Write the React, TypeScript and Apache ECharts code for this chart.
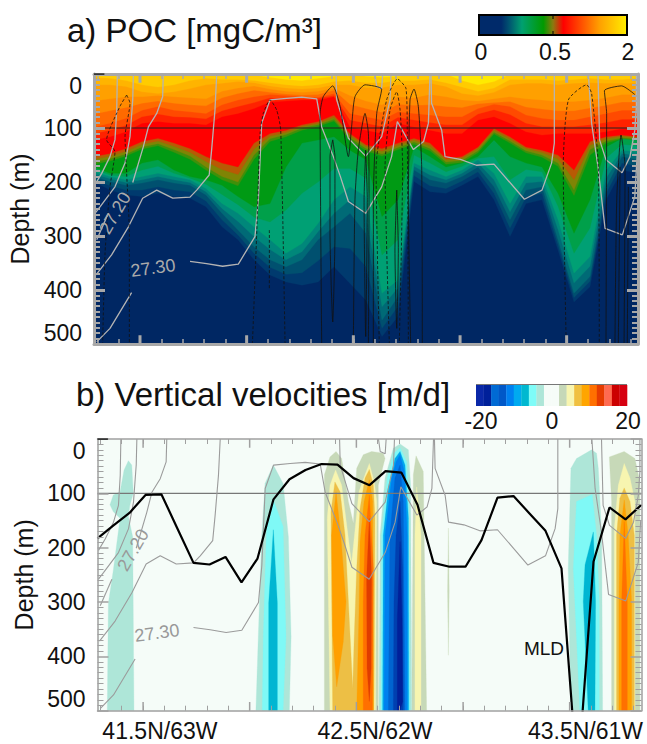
import React, { useEffect, useRef } from "react";
import * as echarts from "echarts";

type Pt = [number, number];

// ---- Ticks ----
const xMinorTicksA = [0.21, 1.54, 2.875, 4.21, 5.54, 6.88, 8.21, 9.54, 10.88, 12.21, 13.54, 14.88, 16.21, 17.54, 18.88, 20.21, 21.54, 22.88, 24.21, 25.54, 26.88, 28.21, 29.54, 30.88, 32.21, 33.54];
const xMajorTicksA = [2.875, 9.54, 16.21, 22.88, 29.54];
const xMinorTicksB = [0.18, 1.51, 2.85, 4.18, 5.51, 6.85, 8.18, 9.51, 10.85, 12.18, 13.51, 14.85, 16.18, 17.51, 18.85, 20.18, 21.51, 22.85, 24.18, 25.51, 26.85, 28.18, 29.51, 30.85, 32.18, 33.51];
const xMajorTicksB = [2.85, 9.51, 16.18, 22.85, 29.51];
const sectionLabelPos = [3.9, 17.34, 30.5];
const sectionLabels = ["41.5N/63W", "42.5N/62W", "43.5N/61W"];

// ---- POC: depth (m) of each contour at stations 0..34 ----
const navyTop = [199,215,224,227,221,227,230,246,283,307,344,372,385,391,385,357,388,419,486,449,199,218,221,206,190,233,301,240,233,326,422,394,233,178,184];
const blue1 = [195,207,215,215,209,215,218,235,270,298,332,358,371,368,346,320,323,357,471,430,188,207,212,198,181,221,285,228,221,316,414,384,221,165,171];
const tealMid = [190,199,206,202,196,202,206,224,258,289,320,344,357,344,307,283,258,295,456,412,178,196,202,190,172,209,270,215,209,307,406,375,209,153,159];
const teal2 = [185,194,201,196,190,196,201,218,249,273,301,325,344,329,292,258,233,261,431,396,171,187,196,184,165,196,255,202,199,288,387,356,193,147,151];
const tealBright = [181,190,196,190,184,190,196,212,240,258,283,307,332,314,277,233,209,227,406,381,165,178,190,178,159,184,240,190,190,270,369,338,178,141,144];
const tealGreen = [176,187,190,178,171,184,193,204,223,242,265,274,252,221,200,175,175,193,335,307,150,165,181,171,156,153,196,177,181,245,332,285,156,130,133];
const greenBottom = [172,184,184,165,159,178,190,196,206,227,246,240,172,128,122,116,141,159,264,233,135,153,172,165,153,122,153,165,172,221,295,233,135,119,122];
const oliveLow = [167,161,152,139,133,145,158,178,196,207,158,125,116,104,97,87,122,142,152,140,130,142,167,164,146,111,128,146,154,171,225,150,128,120,122];
const oliveMid = [163,157,148,135,129,140,152,172,190,200,150,120,112,100,94,84,118,138,148,136,126,138,163,160,142,108,124,142,150,165,215,140,124,118,120];
const oliveHigh = [158,152,143,130,124,134,145,162,177,186,139,115,108,97,91,80,114,134,143,132,122,133,159,156,138,104,120,138,145,157,196,132,120,115,118];
const redBottom = [153,147,138,125,119,128,138,153,165,172,128,110,104,94,88,76,110,131,138,128,119,128,156,153,135,101,116,135,141,150,178,125,116,113,116];
const redTop = [122,116,107,91,88,91,91,94,79,73,64,52,50,48,48,42,98,104,110,91,98,104,110,110,85,79,91,107,113,110,110,110,107,101,101];
const redOrange1 = [110,104,95,79,74,79,80,83,68,60,53,44,46,46,45,40,85,91,97,80,85,90,94,94,74,66,75,91,97,97,97,94,90,84,84];
const orangeRed = [98,91,82,67,60,67,70,73,57,48,42,38,40,42,43,36,73,79,85,70,73,76,79,79,64,56,60,76,82,85,85,79,73,67,67];
const orange2 = [74,68,62,54,50,54,57,59,44,36,30,34,37,39,38,30,56,64,71,56,58,57,60,62,55,53,51,61,65,68,68,63,58,52,52];
const orange = [50,46,42,42,40,42,44,46,32,26,22,28,32,34,32,26,40,50,57,42,44,38,42,48,50,46,42,46,48,51,51,48,44,38,38];
const amber = [20,20,23,33,36,33,27,20,17,14,16,22,26,28,26,20,20,25,25,20,20,17,23,36,40,34,20,17,17,20,17,16,17,17,17];
const gold = [6,8,12,20,24,20,12,8,10,10,12,16,20,22,20,14,12,16,16,12,12,10,16,24,32,26,10,10,10,12,10,8,10,10,8];
const yellow = [0,0,0,0,3,0,0,0,0,0,2,6,10,12,8,4,0,4,6,4,0,0,0,12,20,14,0,0,0,0,0,0,0,0,0];
const pocLevels: [number[], string][] = [
  [navyTop, "#003a6e"], [blue1, "#00506f"], [tealMid, "#006a76"], [teal2, "#00877a"], [tealBright, "#00a074"],
  [tealGreen, "#00a04a"], [greenBottom, "#009a14"], [oliveLow, "#3f900a"], [oliveMid, "#7f8405"], [oliveHigh, "#b85a05"],
  [redBottom, "#ff0000"], [redTop, "#ff2200"], [redOrange1, "#ff4a00"], [orangeRed, "#ff6a00"], [orange2, "#ff8a00"],
  [orange, "#ffa000"], [amber, "#ffb400"], [gold, "#ffcc00"], [yellow, "#ffea00"],
];

// ---- Isopycnals [station, depth] ----
const isoA: Pt[] = [[1.46,0],[1.42,67],[1.31,122],[1,153],[0.48,184],[0.06,205]];
const isoB: Pt[] = [[2.46,0],[2.42,48],[2.25,116],[1.94,165],[1.31,209],[0.375,246],[0.06,258]];
const isoC1: Pt[] = [[4.33,0],[4.29,42],[3.92,73],[3.4,98],[3.08,135],[2.42,201]];
const isoC2: Pt[] = [[0.9,258],[0.17,307]];
const isoD: Pt[] = [[7.67,0],[7.56,67],[7.35,141],[7.2,187],[6.42,215],[6,228],[4.92,230],[3.92,215],[3.04,230],[2.15,283],[1.1,335],[0.125,372]];
const isoE: Pt[] = [[6,347],[7.04,351],[8.04,356],[9.02,352],[10.06,301],[10.27,233],[10.48,91],[11,48],[12.04,45],[12.98,43],[13.92,46],[14.23,98],[14.96,153],[15.4,190],[15.9,236],[16.98,258],[17.98,209],[18.6,153],[18.96,88],[19.96,140],[20.6,125],[20.9,91],[21,0]];
const isoF: Pt[] = [[0.17,496],[1,471],[2.35,405]];
const isoG: Pt[] = [[15.13,0],[15.17,48],[15.9,119],[16.98,152],[17.98,116],[18.5,48],[18.56,0]];
const isoH: Pt[] = [[17.56,0],[17.67,23],[17.98,27],[18.04,0]];
const isoI: Pt[] = [[21.06,0],[21.1,54],[21.73,104],[21.94,153],[22.9,158],[23.9,169],[25,167],[26.9,232],[28,215],[28.6,165],[28.77,128],[28.77,0]];
const isoJ: Pt[] = [[30.9,0],[31.1,91],[31.5,172],[31.94,286],[33.02,298],[33.8,227],[33.95,150]];
const isoK: Pt[] = [[31.5,0],[31.6,122],[32,159],[33,183],[33.5,153],[33.8,104],[33.9,60],[33.9,0]];
const isopycnals = [isoA, isoB, isoC1, isoC2, isoD, isoE, isoF, isoG, isoH, isoI, isoJ, isoK];

// ---- Vertical velocity contours on POC panel ----
const dashedW: Pt[][] = [
  [[2.04,39],[2.25,54],[1.94,116],[2.04,184],[2.21,295],[2.21,500]],
  [[2.04,39],[1.62,60],[0.79,122],[1.31,144],[1,209],[0.69,332],[0.54,500]],
  [[9.9,500],[10.17,295],[10.38,110],[10.58,73],[11,48],[11.42,67],[11.67,104],[11.94,500]],
  [[10.96,289],[10.96,400]],
  [[17.83,500],[17.63,172],[18.29,48],[18.96,9],[19.5,27],[19.58,110],[19.65,500]],
  [[18.46,500],[18.19,172],[18.5,67],[18.92,33],[19.13,67],[19.29,172],[19.08,500]],
  [[29.5,483],[29.33,172],[29.65,48],[30.79,20],[31.1,36],[31.52,172],[31.58,500]],
];
const solidW: Pt[][] = [
  [[14.23,500],[14.13,73],[14.33,42],[14.92,22],[15.38,60],[15.9,153],[16.1,98],[16.31,42],[16.94,20],[17.98,28],[17.67,73],[17.46,233],[17.46,500]],
  [[14.92,122],[15.06,153],[15.06,295],[14.92,459],[14.75,295],[14.75,153],[14.92,122]],
  [[16.21,500],[16.31,233],[16.52,141],[16.94,73],[17.15,110],[17.19,233],[17.15,500]],
  [[16.98,141],[17.08,233],[16.98,486],[16.88,233],[16.98,141]],
  [[18.92,215],[19.02,326],[18.92,471],[18.81,326],[18.92,215]],
  [[19.79,500],[19.65,233],[19.75,48],[20,28],[20.27,60],[20.48,172],[20.52,500]],
  [[32,500],[32.04,73],[31.9,31],[32.98,22],[33.8,38]],
  [[32.56,500],[32.67,233],[32.94,113],[33.19,172],[33.13,500]],
  [[32.77,500],[32.88,172]],
  [[33.33,500],[33.4,209]],
];

// ---- Mixed layer depth per station ----
const mld = [183,159,136,103,102,165,228,231,217,264,220,111,74,57,46,47,72,85,59,62,121,228,235,235,186,108,105,137,169,238,630,226,126,148,121];

// ---- Vertical velocity filled contours ----
const paleTeal = "#aee6d8", cyan = "#7ff9f6", deepCyan = "#00b6d2", skyBlue = "#00a8ee", blue = "#0080ee", medBlue = "#0064d0", deepBlue = "#0040b0", navyBlue = "#00209a";
const paleOlive = "#c7d9b8", paleYellow = "#f7f5b0", amberW = "#edbf45", orangeW = "#ffa000", deepOrange = "#ff7000", redOrange = "#e03c00";
const velPolys: [string, Pt[]][] = [
  [paleTeal, [[1.93,40],[2.14,48],[2.24,100],[2.03,121],[1.93,143],[2.2,180],[2.28,500],[0.61,500],[0.68,302],[0.99,241],[1.41,146],[0.99,134],[0.78,121],[0.99,103],[1.41,97],[1.66,57]]],
  [paleTeal, [[10.99,48],[11.6,82],[11.93,180],[12.1,364],[11.99,500],[9.9,500],[10.05,364],[10.26,180],[10.47,82]]],
  [cyan, [[10.99,112],[11.6,161],[11.78,364],[11.6,500],[10.3,500],[10.36,364],[10.57,161]]],
  [deepCyan, [[10.99,167],[11.24,302],[11.24,500],[10.7,500],[10.7,302]]],
  [paleOlive, [[14.18,500],[14.18,66],[14.53,33],[14.91,23],[15.26,36],[15.68,115],[15.99,155],[16.2,54],[16.61,29],[17.13,23],[17.86,26],[17.97,36],[17.55,85],[17.55,500]]],
  [paleYellow, [[14.53,500],[14.36,146],[14.53,85],[14.88,57],[15.26,85],[15.88,229],[16.34,97],[16.72,66],[16.99,45],[17.3,79],[17.45,115],[17.38,500]]],
  [amberW, [[14.7,500],[14.59,134],[14.84,79],[15.16,97],[15.47,177],[15.68,299],[15.95,459],[16.05,361],[16.2,238],[16.41,128],[16.72,72],[16.99,56],[17.24,85],[17.34,146],[17.28,500]]],
  [orangeW, [[14.91,97],[15.2,177],[15.53,299],[15.36,373],[14.95,456],[14.7,361],[14.63,177]]],
  [orangeW, [[16.2,500],[16.36,299],[16.41,189],[16.66,115],[16.99,75],[17.2,115],[17.24,500]]],
  [deepOrange, [[16.99,103],[17.24,238],[17.18,500],[16.61,500],[16.61,299],[16.72,177]]],
  [redOrange, [[16.99,146],[17.13,256],[17.1,422],[16.99,483],[16.85,422],[16.82,256]]],
  [paleOlive, [[19.91,31],[20.36,60],[20.57,500],[19.64,500],[19.74,66]]],
  [paleYellow, [[19.95,88],[20.22,177],[20.22,500],[19.84,500],[19.84,177]]],
  [paleTeal, [[18.91,9],[19.43,20],[19.57,85],[19.64,500],[17.59,500],[17.66,177],[17.97,72],[18.49,17]]],
  [cyan, [[18.91,16],[19.32,42],[19.45,115],[19.53,500],[17.72,500],[17.76,177],[18.11,72],[18.53,26]]],
  [skyBlue, [[18.91,23],[19.22,48],[19.43,146],[19.45,500],[17.82,500],[17.86,177],[18.18,91],[18.59,36]]],
  [blue, [[18.91,29],[19.18,60],[19.36,177],[19.36,500],[17.91,500],[17.97,177],[18.39,72],[18.66,42]]],
  [medBlue, [[18.91,48],[19.11,115],[19.22,500],[18.18,500],[18.28,177],[18.59,72]]],
  [deepBlue, [[18.91,115],[19.07,238],[19.11,500],[18.49,500],[18.53,299],[18.66,177]]],
  [navyBlue, [[18.91,189],[19.03,330],[19.07,483],[18.91,500],[18.74,500],[18.74,330]]],
  [paleOlive, [[21.93,164],[21.98,280],[21.93,398],[21.88,280]]],
  [paleTeal, [[30.88,20],[31.19,26],[31.3,54],[31.51,177],[31.57,500],[29.59,500],[29.42,238],[29.59,54],[29.94,36]]],
  [cyan, [[29.94,115],[30.92,102],[31.19,177],[31.36,299],[31.36,500],[30.15,500],[29.74,238]]],
  [deepCyan, [[30.99,171],[31.13,299],[31.09,500],[30.67,500],[30.36,299],[30.47,232]]],
  [paleOlive, [[31.99,33],[32.92,23],[33.59,36],[33.9,79],[33.9,500],[32.13,500],[32.13,115]]],
  [paleYellow, [[32.92,45],[33.28,72],[33.59,115],[33.59,500],[32.3,500],[32.3,164],[32.55,85]]],
  [amberW, [[32.92,90],[33.28,115],[33.55,177],[33.55,500],[32.44,500],[32.44,177],[32.65,109]]],
  [orangeW, [[32.92,112],[33.17,177],[33.38,299],[33.38,500],[32.59,500],[32.59,299],[32.65,177]]],
  [deepOrange, [[32.92,152],[33.11,299],[33.11,500],[32.76,500],[32.76,299]]],
];

// ---- Colour bars ----
const pocBarStops: [number, string][] = [[0,"#002a6a"],[0.15,"#002a6a"],[0.2,"#005070"],[0.29,"#00a070"],[0.435,"#009a00"],[0.5,"#8a7a10"],[0.57,"#ff0000"],[0.815,"#ffa000"],[1,"#ffee00"]];
const velBarColors = ["#0a28a8","#00209a","#006ad4","#0058c8","#0080f0","#00aaf0","#00b8d0","#7ffcf8","#aee6d8","#f6fcf8","#f6fcf8","#c6d8b8","#f8f5b0","#f0c040","#ffa500","#ff7000","#e63c00","#ff6a50","#cc0000","#d60010"];

const FONT = "Liberation Sans";
const TITLE_SIZE = 33;
const TICK_SIZE = 23;

function App() {
  const ref = useRef<HTMLDivElement>(null);
  useEffect(() => {
    const chart = echarts.init(ref.current!, undefined, { renderer: "svg" });

    const polyPoc: [string, Pt[]][] = pocLevels.map(([lv, c]) => [
      c,
      [[0, 0], [34, 0], ...lv.map((d, i) => [34 - i, lv[34 - i]] as Pt)],
    ]);

    const polySeries = (polys: [string, Pt[]][], gi: number) => ({
      type: "custom", xAxisIndex: gi * 2, yAxisIndex: gi * 2, silent: true, clip: true, z: 1,
      encode: { x: 0, y: 1 },
      data: polys.map((p, i) => [p[1][0][0], p[1][0][1], i]),
      renderItem: (_: any, api: any) => {
        const p = polys[api.value(2)];
        return {
          type: "polygon",
          shape: { points: p[1].map((q) => api.coord(q)) },
          style: { fill: p[0], stroke: p[0], lineWidth: 0.3 },
        };
      },
    });
    const lineS = (data: any[], gi: number, color: string, width: number, extra: any = {}) => ({
      type: "line", xAxisIndex: gi * 2, yAxisIndex: gi * 2, data, symbol: "none", silent: true, z: extra.z ?? 3,
      lineStyle: { color, width, ...(extra.dash ? { type: extra.dash } : {}) },
      smooth: extra.smooth ?? false,
    });

    const xAxes = (gi: number, minor: number[], col: string, lineW: number, tickW: number) => {
      const base = { type: "value", gridIndex: gi, min: 0, max: 34, splitLine: { show: false }, z: 10, axisLabel: { show: false } };
      const t = { show: true, inside: true, customValues: minor, length: 5, lineStyle: { color: col, width: tickW } };
      const line = { show: true, onZero: false, lineStyle: { color: col, width: lineW } };
      return [
        { ...base, position: "bottom", axisLine: line, axisTick: t,
          ...(gi === 1 ? { axisLabel: { show: true, customValues: sectionLabelPos, margin: 9, color: "#111", fontFamily: FONT, fontSize: TICK_SIZE,
              formatter: (v: number) => sectionLabels[sectionLabelPos.indexOf(v)] ?? "" } } : {}) },
        { ...base, position: "top", axisLine: line, axisTick: t },
      ];
    };
    const yAxes = (gi: number, col: string, lineW: number, tickW: number, majW: number) => {
      const base = { type: "value", gridIndex: gi, min: 0, max: 500, interval: 100, inverse: true, splitLine: { show: false }, z: 10, minorSplitLine: { show: false } };
      const ticks = { show: true, inside: true, length: 11, lineStyle: { color: col, width: majW } };
      const minor = { show: true, splitNumber: 10, length: 6, lineStyle: { color: col, width: tickW } };
      return [
        { ...base, position: "left", name: "Depth (m)", nameLocation: "middle", nameGap: gi === 0 ? 60 : 61,
          nameTextStyle: { fontFamily: FONT, fontSize: 25, color: "#111" },
          axisLine: { show: true, onZero: false, lineStyle: { color: col, width: lineW } }, axisTick: ticks, minorTick: minor,
          axisLabel: { show: true, margin: 12, color: "#111", fontFamily: FONT, fontSize: TICK_SIZE, verticalAlignMinLabel: "top", verticalAlignMaxLabel: "bottom" } },
        { ...base, position: "right", axisLabel: { show: false },
          axisLine: { show: true, onZero: false, lineStyle: { color: col, width: lineW } }, axisTick: ticks, minorTick: minor },
      ];
    };
    const majorTicks = (vals: number[], gi: number, col: string, w: number) =>
      vals.flatMap((v) => [
        lineS([[v, 0], [v, 16]], gi, col, w, { z: 6 }),
        lineS([[v, 500], [v, 484]], gi, col, w, { z: 6 }),
      ]);

    const series: any[] = [
      polySeries(polyPoc, 0),
      polySeries(velPolys, 1),
      lineS([[0.6, 100], [33.4, 100]], 0, "#222", 1),
      lineS([[0, 100], [34, 100]], 1, "#777", 1.2),
      lineS([[0, 0], [0.65, 0]], 0, "#111", 1.5, { z: 12 }),
      lineS([[0, 0], [0.65, 0]], 1, "#111", 1.5, { z: 12 }),
      ...majorTicks(xMajorTicksA, 0, "#a8a8a8", 3),
      ...majorTicks(xMajorTicksB, 1, "#a0a0a0", 1.5),
      ...isopycnals.map((l) => lineS(l, 0, "#b4b4b4", 1.3)),
      ...isopycnals.map((l) => lineS(l, 1, "#9b9b9b", 1.1)),
      ...solidW.map((l) => lineS(l, 0, "#111", 0.8, { smooth: 0.2 })),
      ...dashedW.map((l) => lineS(l, 0, "#111", 0.8, { smooth: 0.2, dash: [3, 2] })),
      lineS(mld.map((d, i) => [i, d]), 1, "#000", 2.2),
    ];

    const txt = (text: string, x: number, y: number, size: number, fill: string, extra: any = {}) => ({
      type: "text", x, y, rotation: extra.rotation ?? 0, z: 20,
      style: { text, fontFamily: FONT, fontSize: size, fill, textAlign: extra.align ?? "center", textVerticalAlign: "middle" },
    });

    const W = 151;
    const velBoxW = (627 - 476) / velBarColors.length;
    const graphic: any[] = [
      txt("a) POC [mgC/m³]", 67, 30, TITLE_SIZE, "#111", { align: "left" }),
      txt("b) Vertical velocities [m/d]", 76, 394, TITLE_SIZE, "#111", { align: "left" }),
      { type: "rect", x: 479, y: 15, z: 20, shape: { width: W - 3, height: 20 },
        style: { stroke: "#000", lineWidth: 2,
          fill: new echarts.graphic.LinearGradient(0, 0, 1, 0, pocBarStops.map(([offset, color]) => ({ offset, color }))) } },
      { type: "line", z: 21, shape: { x1: 553, y1: 15, x2: 553, y2: 19 }, style: { stroke: "#000", lineWidth: 1 } },
      { type: "line", z: 21, shape: { x1: 553, y1: 31, x2: 553, y2: 35 }, style: { stroke: "#000", lineWidth: 1 } },
      txt("0", 481, 52, TICK_SIZE, "#111"), txt("0.5", 555, 52, TICK_SIZE, "#111"), txt("2", 628, 52, TICK_SIZE, "#111"),
      ...velBarColors.map((c, i) => ({ type: "rect", x: 476 + i * velBoxW, y: 385, z: 20, shape: { width: velBoxW + 0.3, height: 21 }, style: { fill: c } })),
      { type: "line", z: 21, shape: { x1: 476, y1: 384.5, x2: 627, y2: 384.5 }, style: { stroke: "#777", lineWidth: 1 } },
      txt("-20", 481, 421, TICK_SIZE, "#111"), txt("0", 552, 421, TICK_SIZE, "#111"), txt("20", 628, 421, TICK_SIZE, "#111"),
      txt("27.20", 115, 213, 18, "#aaaaaa", { rotation: Math.PI / 3 }),
      txt("27.30", 153, 268, 18, "#aaaaaa", { rotation: 0.14 }),
      txt("27.20", 133, 550, 18, "#999999", { rotation: Math.PI / 3 }),
      txt("27.30", 157, 633, 18, "#999999", { rotation: 0.14 }),
      txt("MLD", 544, 648, 19, "#111"),
    ];

    chart.setOption({
      animation: false,
      backgroundColor: "#fff",
      grid: [
        { left: 94, top: 74, width: 544, height: 270, show: true, backgroundColor: "#002763", borderWidth: 0, outerBoundsMode: "none", containLabel: false },
        { left: 97.5, top: 439, width: 544, height: 271.7, show: true, backgroundColor: "#f5fcf8", borderWidth: 0, outerBoundsMode: "none", containLabel: false },
      ],
      xAxis: [...xAxes(0, xMinorTicksA, "#a8a8a8", 3, 1.5), ...xAxes(1, xMinorTicksB, "#a0a0a0", 1.5, 1)],
      yAxis: [...yAxes(0, "#a8a8a8", 3, 2, 3), ...yAxes(1, "#a0a0a0", 1.5, 1, 1.5)],
      series,
      graphic,
    });
    return () => chart.dispose();
  }, []);
  return <div ref={ref} style={{ position: "absolute", left: 0, top: 0, width: 647, height: 744 }} />;
}

export default App;
